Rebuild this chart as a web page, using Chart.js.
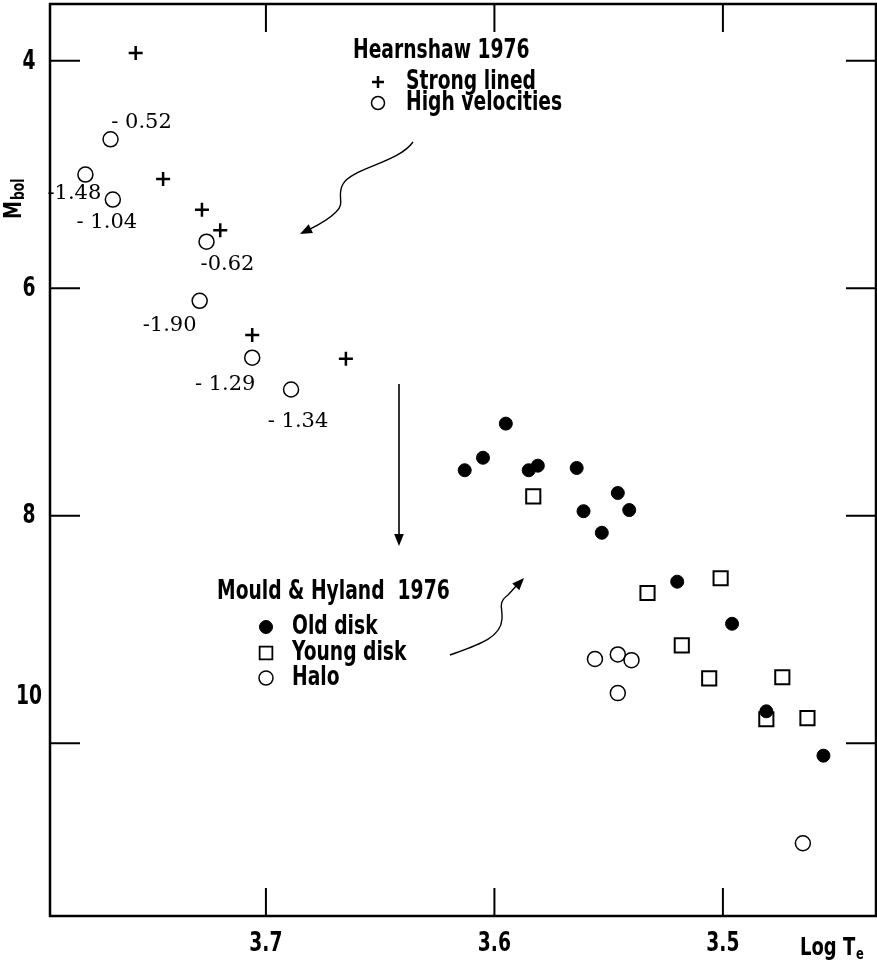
<!DOCTYPE html>
<html>
<head>
<meta charset="utf-8">
<script src="https://cdn.jsdelivr.net/npm/chart.js@4.4.1/dist/chart.umd.min.js"></script>
<style>
  body { margin: 0; background: #fff; }
  #wrap { width: 877px; height: 966px; }
</style>
</head>
<body>
<div id="wrap"><canvas id="hr" width="877" height="966"></canvas></div>
<script>
// Hearnshaw 1976
const strongX = [3.757, 3.745, 3.728, 3.720, 3.706, 3.665];
const strongY = [3.93, 5.04, 5.31, 5.49, 6.41, 6.62];
const highVelX = [3.768, 3.779, 3.767, 3.726, 3.729, 3.706, 3.689];
const highVelY = [4.69, 5.00, 5.22, 5.59, 6.11, 6.61, 6.89];
const highVelFeH = ["- 0.52", "-1.48", "- 1.04", "-0.62", "-1.90", "- 1.29", "- 1.34"];

// Mould & Hyland 1976
const oldDiskX = [3.595, 3.605, 3.613, 3.585, 3.581, 3.564, 3.546, 3.561, 3.541, 3.553, 3.520, 3.496, 3.481, 3.456];
const oldDiskY = [7.19, 7.49, 7.60, 7.60, 7.56, 7.58, 7.80, 7.96, 7.95, 8.15, 8.58, 8.95, 9.72, 10.11];
const youngDiskX = [3.583, 3.533, 3.501, 3.518, 3.506, 3.474, 3.481, 3.463];
const youngDiskY = [7.83, 8.68, 8.55, 9.14, 9.43, 9.42, 9.79, 9.78];
const haloX = [3.556, 3.546, 3.540, 3.546, 3.465];
const haloY = [9.26, 9.22, 9.27, 9.56, 10.88];

const xTicks = [3.7, 3.6, 3.5];
const xTickLabels = ["3.7", "3.6", "3.5"];
const yTicks = [4, 6, 8, 10];
const yTickLabels = ["4", "6", "8", "10"];

const pts = (xs, ys) => xs.map((x, i) => ({ x: x, y: ys[i] }));

const boldFont = (px) => "bold " + px + "px 'DejaVu Sans Condensed', 'DejaVu Sans', sans-serif";

// the original lettering is a very narrow heavy face, so squeeze it sideways
function narrowText(ctx, txt, x, y, px, align) {
  ctx.save();
  ctx.font = boldFont(px);
  ctx.textAlign = align || "left";
  ctx.translate(x, y);
  ctx.scale(0.8, 1);
  ctx.fillText(txt, 0, 0);
  ctx.restore();
}

// label offsets for the [Fe/H] numbers (pixels from the point)
const feOffsets = [[31, -17], [-11, 19], [-6, 23], [21, 23], [-30, 25], [-27, 27], [7, 32]];

function arrowHead(ctx, fromX, fromY, toX, toY) {
  const a = Math.atan2(toY - fromY, toX - fromX);
  const len = 13, w = 0.38;
  ctx.beginPath();
  ctx.moveTo(toX, toY);
  ctx.lineTo(toX - len * Math.cos(a - w), toY - len * Math.sin(a - w));
  ctx.lineTo(toX - len * Math.cos(a + w), toY - len * Math.sin(a + w));
  ctx.closePath();
  ctx.fill();
}

const decor = {
  id: "decor",
  afterDraw(chart) {
    const ctx = chart.ctx;
    const a = chart.chartArea;
    const xs = chart.scales.x, ys = chart.scales.y;
    ctx.save();
    ctx.strokeStyle = "#000";
    ctx.fillStyle = "#000";
    ctx.textBaseline = "middle";

    // frame
    ctx.lineWidth = 2.5;
    ctx.strokeRect(a.left, a.top, a.right - a.left, a.bottom - a.top);

    // inward ticks
    ctx.lineWidth = 2;
    ctx.beginPath();
    xTicks.forEach(v => {
      const px = xs.getPixelForValue(v);
      ctx.moveTo(px, a.bottom); ctx.lineTo(px, a.bottom - 28);
      ctx.moveTo(px, a.top); ctx.lineTo(px, a.top + 28);
    });
    yTicks.forEach(v => {
      const py = ys.getPixelForValue(v);
      ctx.moveTo(a.left, py); ctx.lineTo(a.left + 30, py);
      ctx.moveTo(a.right, py); ctx.lineTo(a.right - 30, py);
    });
    ctx.stroke();

    // tick labels
    xTicks.forEach((v, i) => {
      narrowText(ctx, xTickLabels[i], xs.getPixelForValue(v), a.bottom + 28, 26, "center");
    });
    yTicks.forEach((v, i) => {
      const dy = yTickLabels[i] === "10" ? -46 : 1;
      narrowText(ctx, yTickLabels[i], a.left - 21, ys.getPixelForValue(v) + dy, 26, "center");
    });

    // axis titles
    narrowText(ctx, "Log T", a.right - 76, a.bottom + 32, 25);
    narrowText(ctx, "e", a.right - 20, a.bottom + 39, 16);

    ctx.save();
    ctx.translate(14, 219);
    ctx.rotate(-Math.PI / 2);
    narrowText(ctx, "M", 0, 0, 25);
    narrowText(ctx, "bol", 19, 6, 17);
    ctx.restore();

    // [Fe/H] values beside the high velocity stars
    const hv = chart.getDatasetMeta(1).data;
    ctx.font = "21px 'DejaVu Serif', 'Liberation Serif', serif";
    ctx.textAlign = "center";
    hv.forEach((p, i) => {
      ctx.fillText(highVelFeH[i], p.x + feOffsets[i][0], p.y + feOffsets[i][1]);
    });

    // key blocks
    const sym = (style, r, fill, bw, x, y) => {
      ctx.fillStyle = fill;
      ctx.lineWidth = bw;
      Chart.helpers.drawPoint(ctx, { pointStyle: style, radius: r, rotation: 0, borderWidth: bw }, x, y);
      ctx.fillStyle = "#000";
    };
    narrowText(ctx, "Hearnshaw 1976", 353, 51, 26);
    narrowText(ctx, "Strong lined", 406, 82, 26);
    narrowText(ctx, "High velocities", 406, 103, 26);
    sym("cross", 6, "#000", 2.5, 378, 82);
    sym("circle", 6.5, "#fff", 1.5, 378, 103);

    narrowText(ctx, "Mould & Hyland  1976", 217, 592, 26);
    narrowText(ctx, "Old disk", 292, 627, 26);
    narrowText(ctx, "Young disk", 292, 653, 26);
    narrowText(ctx, "Halo", 292, 678, 26);
    sym("circle", 6.5, "#000", 1, 266, 627);
    sym("rect", 9, "#fff", 1.8, 266, 653);
    sym("circle", 7, "#fff", 1.5, 266, 678);

    // arrows
    ctx.lineWidth = 1.4;
    ctx.beginPath();
    ctx.moveTo(413, 142);
    ctx.bezierCurveTo(398, 163, 352, 168, 343, 184);
    ctx.bezierCurveTo(336, 196, 346, 203, 336, 212);
    ctx.bezierCurveTo(326, 222, 314, 227, 306, 231);
    ctx.stroke();
    arrowHead(ctx, 314, 227, 300, 234);

    ctx.beginPath();
    ctx.moveTo(450, 655);
    ctx.bezierCurveTo(478, 645, 501, 638, 502, 619);
    ctx.bezierCurveTo(503, 608, 497, 603, 508, 595);
    ctx.lineTo(518, 584);
    ctx.stroke();
    arrowHead(ctx, 512, 591, 524, 578);

    ctx.lineWidth = 1.6;
    ctx.beginPath();
    ctx.moveTo(399, 384);
    ctx.lineTo(399, 534);
    ctx.stroke();
    arrowHead(ctx, 399, 520, 399, 546);

    ctx.restore();
  }
};

new Chart(document.getElementById("hr"), {
  type: "scatter",
  data: {
    datasets: [
      { label: "Strong lined", data: pts(strongX, strongY), pointStyle: "cross",
        pointRadius: 7, borderColor: "#000", borderWidth: 2.5 },
      { label: "High velocities", data: pts(highVelX, highVelY), pointStyle: "circle",
        pointRadius: 7.5, borderColor: "#000", backgroundColor: "#fff", borderWidth: 1.5 },
      { label: "Old disk", data: pts(oldDiskX, oldDiskY), pointStyle: "circle",
        pointRadius: 6.5, borderColor: "#000", backgroundColor: "#000", borderWidth: 1 },
      { label: "Young disk", data: pts(youngDiskX, youngDiskY), pointStyle: "rect",
        pointRadius: 10, borderColor: "#000", backgroundColor: "#fff", borderWidth: 2 },
      { label: "Halo", data: pts(haloX, haloY), pointStyle: "circle",
        pointRadius: 7.5, borderColor: "#000", backgroundColor: "#fff", borderWidth: 1.5 }
    ]
  },
  options: {
    responsive: false,
    animation: false,
    layout: { autoPadding: false, padding: { left: 50, top: 4, right: 1, bottom: 50 } },
    plugins: { legend: { display: false }, tooltip: { enabled: false } },
    scales: {
      x: { type: "linear", reverse: true, min: 3.433, max: 3.7945, display: false },
      y: { type: "linear", reverse: true, min: 3.5, max: 11.52, display: false }
    }
  },
  plugins: [decor]
});
</script>
</body>
</html>
